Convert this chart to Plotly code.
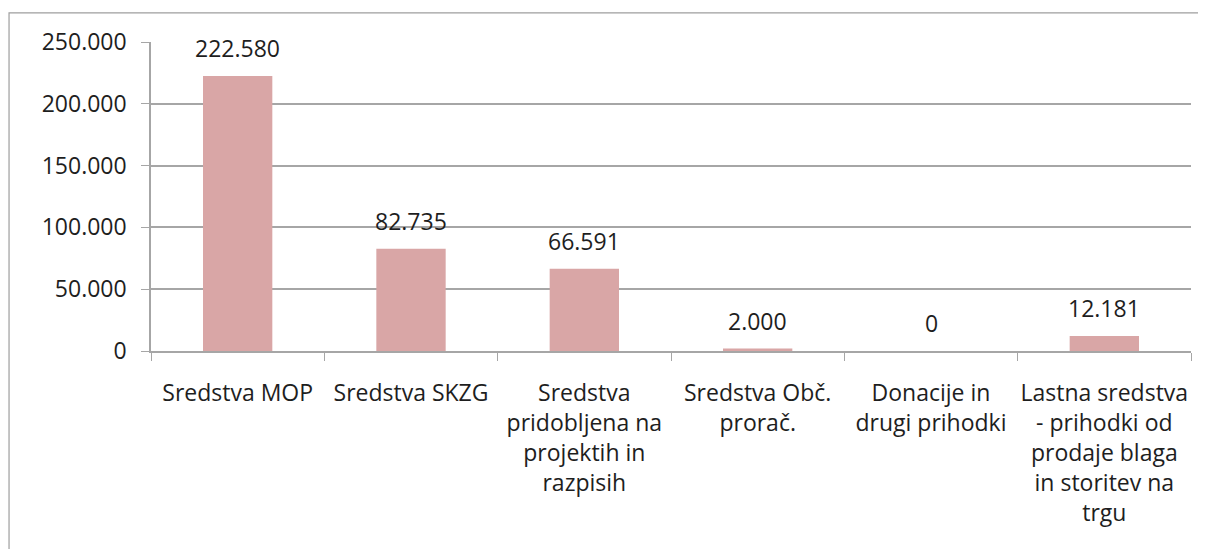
import plotly.graph_objects as go

# source categories (wrapped as in the original chart)
categories = [
    "Sredstva MOP",
    "Sredstva SKZG",
    "Sredstva<br>pridobljena na<br>projektih in<br>razpisih",
    "Sredstva Obč.<br>prorač.",
    "Donacije in<br>drugi prihodki",
    "Lastna sredstva<br>- prihodki od<br>prodaje blaga<br>in storitev na<br>trgu",
]
values = [222580, 82735, 66591, 2000, 0, 12181]
y_ticks = [0, 50000, 100000, 150000, 200000, 250000]

bar_color = "#D9A6A6"
grid_color = "#A6A6A6"
text_color = "#1E1E1E"
font_family = "Open Sans"
font_size = 23

fig = go.Figure(
    go.Bar(
        x=categories,
        y=values,
        marker={"color": bar_color, "line": {"width": 0}},
        hoverinfo="skip",
    )
)

# value labels above the bars
for cat, val in zip(categories, values):
    fig.add_annotation(
        x=cat, y=val, text=f"{val:,}".replace(",", "."),
        showarrow=False, yanchor="middle", yshift=28,
        font={"size": font_size, "color": text_color, "family": font_family},
    )

# outer chart frame (partly cut off, as in the reference)
fig.add_shape(
    type="rect", xref="paper", yref="paper",
    x0=-0.1365, x1=1.05, y0=-0.8, y1=1.094,
    line={"color": "#9E9E9E", "width": 1.2},
)

# page body has an 8px margin, so the figure is sized to fit inside it
fig.update_layout(
    width=1190,
    height=541,
    margin={"l": 143, "r": 7, "t": 34, "b": 198},
    paper_bgcolor="white",
    plot_bgcolor="white",
    separators=",.",
    bargap=0.6,
    showlegend=False,
    font={"family": font_family, "size": font_size, "color": text_color},
    xaxis={
        "showgrid": False,
        "showline": True,
        "linecolor": grid_color,
        "linewidth": 1.5,
        "ticks": "outside",
        "tickson": "boundaries",
        "ticklen": 8,
        "tickcolor": grid_color,
        "tickangle": 0,
        "automargin": False,
        "ticklabelstandoff": 21,
        "tickfont": {"size": font_size},
    },
    yaxis={
        "range": [0, 250000],
        "tickvals": y_ticks,
        "tickformat": ",",
        "showgrid": True,
        "gridcolor": grid_color,
        "gridwidth": 1.5,
        "zeroline": False,
        "showline": True,
        "linecolor": grid_color,
        "linewidth": 1.5,
        "ticks": "outside",
        "ticklen": 8,
        "tickcolor": grid_color,
        "automargin": False,
        "ticklabelstandoff": 10,
        "tickfont": {"size": font_size},
    },
)

fig.write_html("out.html")
